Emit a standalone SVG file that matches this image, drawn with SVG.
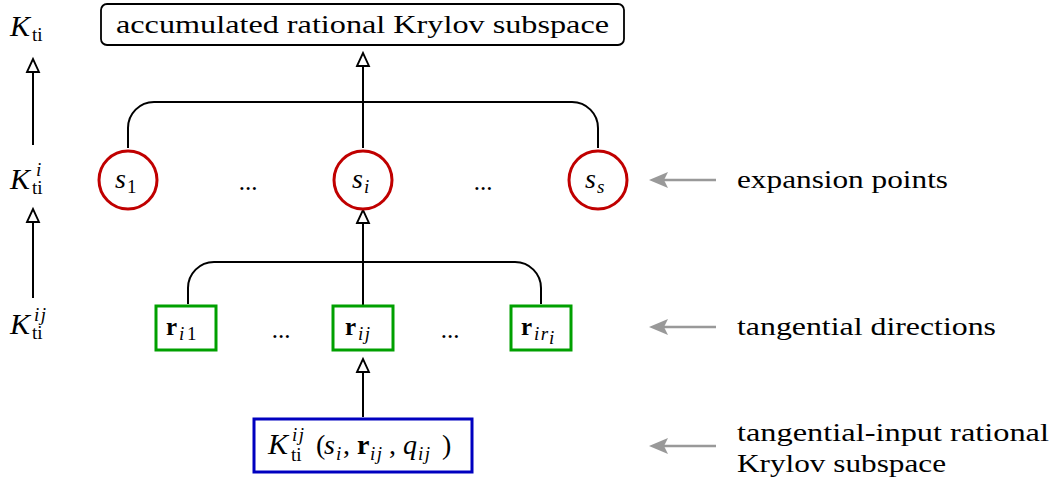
<svg xmlns="http://www.w3.org/2000/svg" width="1054" height="487" viewBox="0 0 1054 487">
<defs>
<style>
text{font-family:"Liberation Serif","DejaVu Serif",serif;fill:#000}
.t{font-size:25px}
.m{font-size:28px;font-style:italic}
.k{font-size:30px;font-style:italic}
.up{font-style:normal}
.sub{font-size:19px;font-style:normal}
.subi{font-size:19px;font-style:italic;letter-spacing:1.5px}
.ln{fill:none;stroke:#000;stroke-width:2}
.head{fill:#fff;stroke:#000;stroke-width:1.8}
.gr{fill:none;stroke:#999;stroke-width:2.5}
.ghead{fill:#999}
.circ{fill:#fff;stroke:#c00000;stroke-width:3}
.gbox{fill:#fff;stroke:#00a000;stroke-width:3}
.bbox{fill:#fff;stroke:#0000c0;stroke-width:3}
</style>
</defs>

<g id="connectors">
<path class="ln" d="M363,148 V60"/>
<path class="ln" d="M128,148 V128 A26,26 0 0 1 154,102 H572 A26,26 0 0 1 598,128 V148"/>
<path class="ln" d="M363,306 V218"/>
<path class="ln" d="M188,304 V288 A26,26 0 0 1 214,262 H515 A26,26 0 0 1 541,288 V304"/>
<path class="ln" d="M363,417 V366"/>
<path class="ln" d="M33,145 V66"/>
<path class="ln" d="M33,298 V216"/>
<path class="head" d="M357,66 L363,53 L369,66 Z"/>
<path class="head" d="M357,223 L363,210 L369,223 Z"/>
<path class="head" d="M357,372 L363,359 L369,372 Z"/>
<path class="head" d="M27,72 L33,59 L39,72 Z"/>
<path class="head" d="M27,222 L33,209 L39,222 Z"/>
<path class="gr" d="M716,180 H664"/>
<path class="ghead" d="M649,180 L668,172 L664,180 L668,188 Z"/>
<path class="gr" d="M716,327 H664"/>
<path class="ghead" d="M649,327 L668,319 L664,327 L668,335 Z"/>
<path class="gr" d="M716,446 H664"/>
<path class="ghead" d="M649,446 L668,438 L664,446 L668,454 Z"/>
</g>

<g id="top">
<rect x="101" y="4" width="523" height="41" rx="6" fill="#fff" stroke="#000" stroke-width="1.8"/>
<text class="t" x="116" y="33" textLength="493" lengthAdjust="spacingAndGlyphs">accumulated rational Krylov subspace</text>
</g>

<g id="level-labels">
<text class="k" x="10" y="36">K<tspan class="sub" x="32" y="41">ti</tspan></text>
<text class="k" x="10" y="189">K<tspan class="subi" x="36" y="176">i</tspan><tspan class="sub" x="32" y="194">ti</tspan></text>
<text class="k" x="10" y="334">K<tspan class="subi" x="34" y="321">ij</tspan><tspan class="sub" x="32" y="339">ti</tspan></text>
</g>

<g id="s1">
<circle class="circ" cx="128" cy="180" r="29"/>
<text class="m" x="115" y="188">s<tspan class="sub" x="127" y="193">1</tspan></text>
</g>
<g id="si">
<circle class="circ" cx="363" cy="180" r="29"/>
<text class="m" x="352" y="188">s<tspan class="subi" x="364" y="193">i</tspan></text>
</g>
<g id="ss">
<circle class="circ" cx="598" cy="180" r="29"/>
<text class="m" x="585" y="188">s<tspan class="subi" x="597" y="193">s</tspan></text>
</g>
<g id="dots-s">
<text class="t" x="248" y="190" text-anchor="middle">...</text>
<text class="t" x="483" y="190" text-anchor="middle">...</text>
</g>

<g id="ri1">
<rect class="gbox" x="156" y="306" width="60" height="44"/>
<text class="t" x="166" y="335" font-weight="bold">r<tspan class="subi" font-weight="normal" x="179" y="340">i</tspan><tspan class="sub" font-weight="normal" x="187" y="340">1</tspan></text>
</g>
<g id="rij">
<rect class="gbox" x="333" y="306" width="60" height="44"/>
<text class="t" x="345" y="335" font-weight="bold">r<tspan class="subi" font-weight="normal" x="358" y="340">ij</tspan></text>
</g>
<g id="riri">
<rect class="gbox" x="511" y="306" width="60" height="44"/>
<text class="t" x="521" y="335" font-weight="bold">r<tspan class="subi" font-weight="normal" x="534" y="340">ir</tspan><tspan class="subi" font-weight="normal" font-size="13" x="549" y="344">i</tspan></text>
</g>
<g id="dots-r">
<text class="t" x="281" y="338" text-anchor="middle">...</text>
<text class="t" x="450" y="338" text-anchor="middle">...</text>
</g>

<g id="krylov">
<rect class="bbox" x="254" y="419" width="218" height="53"/>
<text class="k" x="268" y="454">K<tspan class="subi" x="292" y="441">ij</tspan><tspan class="sub" x="291" y="461">ti</tspan><tspan class="up" font-size="28" x="316" y="454">(</tspan><tspan font-size="28" x="324">s</tspan><tspan class="subi" x="336" y="460">i</tspan><tspan class="up" font-size="28" x="343" y="454">,</tspan><tspan class="up" font-size="28" font-weight="bold" x="357">r</tspan><tspan class="subi" x="370" y="460">ij</tspan><tspan class="up" font-size="28" x="389" y="454">,</tspan><tspan font-size="28" x="403">q</tspan><tspan class="subi" x="418" y="460">ij</tspan><tspan class="up" font-size="28" x="442" y="454">)</tspan></text>
</g>

<g id="annotations">
<text class="t" x="737" y="188" textLength="211" lengthAdjust="spacingAndGlyphs">expansion points</text>
<text class="t" x="737" y="335" textLength="259" lengthAdjust="spacingAndGlyphs">tangential directions</text>
<text class="t" x="737" y="441" textLength="312" lengthAdjust="spacingAndGlyphs">tangential-input rational</text>
<text class="t" x="737" y="472" textLength="209" lengthAdjust="spacingAndGlyphs">Krylov subspace</text>
</g>
</svg>
